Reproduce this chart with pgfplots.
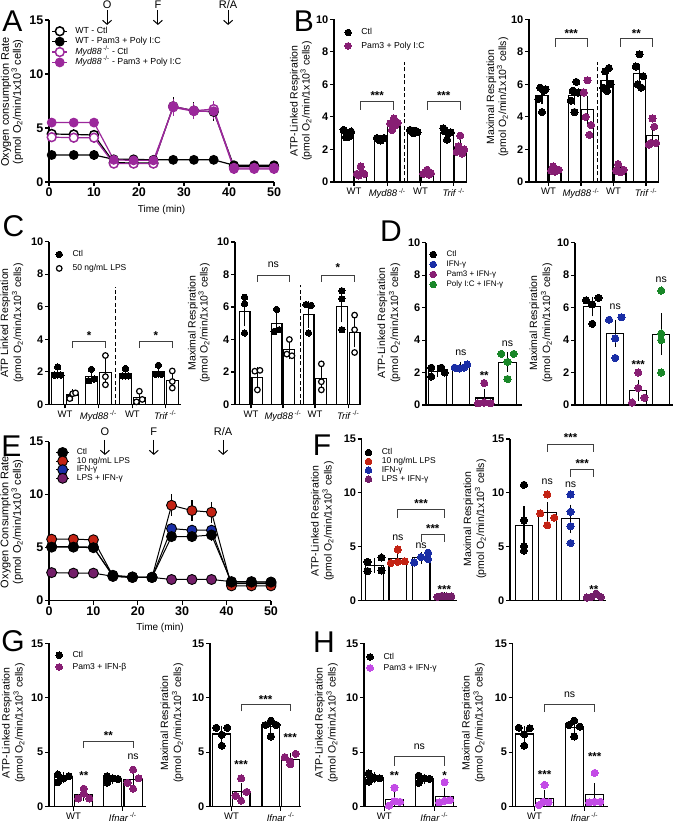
\documentclass[border=0pt]{standalone}
\usepackage{pgfplots}
\pgfplotsset{compat=1.18}
\usepackage{fontspec}
\setmainfont{Liberation Sans}
\usetikzlibrary{arrows.meta}

\definecolor{purA}{RGB}{155,40,155}
\definecolor{purB}{RGB}{135,30,115}
\definecolor{blu}{RGB}{25,45,165}
\definecolor{grn}{RGB}{25,135,40}
\definecolor{redE}{RGB}{195,35,20}
\definecolor{purE}{RGB}{115,30,105}
\definecolor{vio}{RGB}{195,75,230}

\newcommand\stx[3]{\node[font=\bfseries\fontsize{11.5}{11.5}\selectfont, yshift=-2.5pt] at (axis cs:#1,#2) {#3};}
\newcommand\nsx[2]{\node[font=\fontsize{10.5}{11}\selectfont] at (axis cs:#1,#2) {ns};}
\newcommand\arr[4]{\draw[-{Straight Barb[length=4pt,width=9pt]}, line width=1pt] (axis cs:#1,#2) -- (axis cs:#1,#3);
  \node[font=\fontsize{11}{12}\selectfont] at (axis cs:#1,#4)}
\newcommand\units{(pmol O\textsubscript{2}/min/1x10\textsuperscript{3} cells)}
\newcommand\KO[1]{\textit{#1}\,\textsuperscript{-/-}}

\pgfplotsset{
 ax/.style={scale only axis, clip=false, anchor=north west, axis x line=bottom, axis y line=left,
   axis line style={-, line width=1.1pt, black}, every tick/.style={line width=1.1pt, black},
   major tick length=4pt, tick align=outside, ymin=0,
   /pgf/number format/assume math mode=true,
   yticklabel style={font=\bfseries\fontsize{11}{12}\selectfont, inner sep=1.5pt},
   xticklabel style={font=\fontsize{9.5}{10}\selectfont, inner sep=2pt}},
 bars/.style={ybar, bar shift=0pt, bar width=#1, fill=white, draw=black, line width=1.1pt, forget plot,
   error bars/y dir=both, error bars/y explicit,
   error bars/error bar style={line width=1.1pt, black},
   error bars/error mark options={mark size=4pt, line width=1.1pt, black}},
 dots/.style={only marks, mark=*, mark size=3.6pt, color=#1, mark options={fill=#1, draw=#1, line width=0pt},
   legend image code/.code={\draw[##1, mark size=3.3pt] plot coordinates {(0pt,0pt)};}},
 odots/.style={only marks, mark=*, mark size=2.8pt, color=black, mark options={fill=white, draw=black, line width=1.2pt},
   legend image code/.code={\draw[##1] plot coordinates {(0pt,0pt)};}},
 brk/.style={black!75, line width=0.9pt, forget plot},
 dsh/.style={black, line width=1pt, dash pattern=on 4pt off 2.5pt, forget plot},
 leg/.style n args={3}{legend style={draw=none, fill=none, inner sep=0pt, anchor=north west, at={#1},
   font=\fontsize{#2}{10}\selectfont, row sep=#3, column sep=9pt,
   nodes={inner sep=1pt, text height=6.3pt, text depth=1.8pt}}, legend cell align=left},
 lineA/.style={line width=1.2pt, color=#1, mark size=4.4pt,
   error bars/y dir=both, error bars/y explicit,
   error bars/error bar style={line width=1.1pt, #1},
   error bars/error mark options={mark size=3.5pt, line width=1.1pt, #1},
   legend image code/.code={\draw[##1, mark repeat=2, mark phase=2] plot coordinates {(-7.5pt,0pt) (0pt,0pt) (7.5pt,0pt)};}},
 lineE/.style={line width=1pt, color=black, mark=*, mark size=5pt, mark options={fill=#1, draw=black, line width=0.9pt},
   error bars/y dir=both, error bars/y explicit,
   error bars/error bar style={line width=1.1pt, black},
   error bars/error mark options={mark size=3.5pt, line width=1.1pt, black},
   legend image code/.code={\draw[##1, mark repeat=2, mark phase=2] plot coordinates {(-6.5pt,0pt) (0pt,0pt) (6.5pt,0pt)};}},
}

\begin{document}
\begin{tikzpicture}[x=1pt,y=1pt]
\path[use as bounding box] (0,0) rectangle (676,824);

%================ A =================
\begin{axis}[ax, at={(49pt,804pt)}, width=225pt, height=162pt, xmin=0, xmax=50, ymax=15,
  xtick={0,10,...,50}, ytick={0,5,10,15},
  yticklabel style={font=\bfseries\fontsize{12.5}{13}\selectfont},
  xticklabel style={font=\bfseries\fontsize{12.5}{13}\selectfont},
  leg={(0.011,0.963)}{8.8}{0.3pt}, legend style={column sep=6.5pt}]
\addplot[lineA=black, mark=*, mark options={fill=white, line width=1.5pt}] coordinates {
(0.6,4.45) +- (0,0.15) (5.5,4.4) +- (0,0.15) (10,4.35) +- (0,0.15) (14.4,1.8) +- (0,0.1) (18.8,1.75) +- (0,0.1) (23.2,1.75) +- (0,0.1)
(27.6,7.0) +- (0,0.5) (32.2,6.6) +- (0,0.45) (36.6,6.5) +- (0,0.5) (41.1,1.45) +- (0,0.1) (45.6,1.45) +- (0,0.1) (50,1.45) +- (0,0.1)};
\addlegendentry{WT - Ctl}
\addplot[lineA=black, mark=*, mark options={fill=black, line width=1pt}] coordinates {
(0.6,2.5) +- (0,0.1) (5.5,2.5) +- (0,0.1) (10,2.5) +- (0,0.1) (14.4,2.1) +- (0,0.1) (18.8,2.1) +- (0,0.1) (23.2,2.05) +- (0,0.1)
(27.6,2.05) +- (0,0.1) (32.2,2.05) +- (0,0.1) (36.6,2.05) +- (0,0.1) (41.1,1.55) +- (0,0.1) (45.6,1.55) +- (0,0.1) (50,1.55) +- (0,0.1)};
\addlegendentry{WT - Pam3 + Poly I:C}
\addplot[lineA=purA, mark=*, mark options={fill=white, line width=1.5pt}] coordinates {
(0.6,4.15) +- (0,0.15) (5.5,4.1) +- (0,0.15) (10,4.1) +- (0,0.15) (14.4,1.7) +- (0,0.1) (18.8,1.7) +- (0,0.1) (23.2,1.7) +- (0,0.1)
(27.6,7.0) +- (0,0.4) (32.2,6.6) +- (0,0.35) (36.6,6.75) +- (0,0.4) (41.1,1.3) +- (0,0.1) (45.6,1.3) +- (0,0.1) (50,1.3) +- (0,0.1)};
\addlegendentry{\KO{Myd88} - Ctl}
\addplot[lineA=purA, mark=*, mark options={fill=purA, line width=1pt}] coordinates {
(0.6,5.5) +- (0,0.1) (5.5,5.5) +- (0,0.1) (10,5.5) +- (0,0.1) (14.4,2.05) +- (0,0.1) (18.8,2.0) +- (0,0.1) (23.2,2.0) +- (0,0.1)
(27.6,6.9) +- (0,0.45) (32.2,6.55) +- (0,0.35) (36.6,6.55) +- (0,0.35) (41.1,1.2) +- (0,0.1) (45.6,1.2) +- (0,0.1) (50,1.2) +- (0,0.1)};
\addlegendentry{\KO{Myd88} - Pam3 + Poly I:C}
\arr{12.9}{15.93}{14.54}{16.4} {O};
\arr{24.2}{15.93}{14.54}{16.4} {F};
\arr{39.8}{15.93}{14.54}{16.4} {R/A};
\end{axis}
\node[font=\fontsize{10}{11}\selectfont] at (161.5pt,614pt) {Time (min)};
\node[rotate=90, align=center, font=\fontsize{11}{12}\selectfont] at (12pt,722pt) {Oxygen consumption Rate\\\units};

%================ B left =================
\begin{axis}[ax, at={(334pt,804.7pt)}, width=133pt, height=162.7pt, xmin=-1, xmax=9, ymax=10,
  ytick={0,2,...,10}, xtick={0.5,3,5.5,8}, xticklabels={WT, \KO{Myd88}, WT, \KO{Trif}},
  leg={(0.080,0.951)}{8.7}{3.3pt}]
\addplot[bars=0.92] coordinates {(0,2.96) +- (0,0.08) (1,0.58) +- (0,0.1) (2.5,2.64) +- (0,0.03) (3.5,3.57) +- (0,0.11)
 (5,3.1) +- (0,0.04) (6,0.57) +- (0,0.05) (7.5,3.01) +- (0,0.12) (8.5,2.13) +- (0,0.2)};
\addplot[dots=black] coordinates {(-0.28,3.2)(-0.1,2.75)(0.1,2.95)(0.28,3.1)(0.15,2.8)
 (2.22,2.7)(2.38,2.6)(2.5,2.55)(2.62,2.65)(2.78,2.7)
 (4.72,3.2)(4.86,3.1)(5.0,3.0)(5.14,3.15)(5.28,3.05)
 (7.22,3.3)(7.38,3.1)(7.5,2.6)(7.62,3.0)(7.78,3.05)};
\addlegendentry{Ctl}
\addplot[dots=purB] coordinates {(0.72,0.5)(0.86,0.4)(1.0,0.95)(1.14,0.55)(1.28,0.5)
 (3.22,3.6)(3.36,3.2)(3.5,3.9)(3.64,3.5)(3.78,3.65)
 (5.72,0.5)(5.86,0.6)(6.0,0.75)(6.14,0.45)(6.28,0.55)
 (8.22,1.85)(8.36,2.2)(8.5,2.85)(8.64,1.75)(8.78,2.0)};
\addlegendentry{Pam3 + Poly I:C}
\addplot[dsh] coordinates {(4.27,0) (4.27,7.4)};
\addplot[brk] coordinates {(1,4.43) (1,4.94) (3.5,4.94) (3.5,4.43)};
\addplot[brk] coordinates {(6,4.43) (6,4.94) (8.5,4.94) (8.5,4.43)};
\stx{2.25}{5.45}{***}
\stx{7.25}{5.45}{***}
\end{axis}
\node[rotate=90, align=center, font=\fontsize{10.5}{12}\selectfont] at (301pt,723pt) {ATP-Linked Respiration\\\units};

%================ B right =================
\begin{axis}[ax, at={(529pt,804.7pt)}, width=130pt, height=162.7pt, xmin=-1, xmax=9, ymax=10,
  ytick={0,2,...,10}, xtick={0.5,3,5.5,8}, xticklabels={WT, \KO{Myd88}, WT, \KO{Trif}}]
\addplot[bars=0.92] coordinates {(0,5.3) +- (0,0.27) (1,0.75) +- (0,0.05) (2.5,5.31) +- (0,0.31) (3.5,4.43) +- (0,0.62)
 (5,6.24) +- (0,0.28) (6,0.76) +- (0,0.09) (7.5,6.65) +- (0,0.38) (8.5,2.88) +- (0,0.33)};
\addplot[dots=black, forget plot] coordinates {(-0.28,5.1)(-0.14,5.8)(0,4.3)(0.14,5.6)(0.28,5.7)
 (2.22,5.0)(2.36,5.6)(2.5,4.3)(2.64,6.15)(2.78,5.5)
 (4.72,5.8)(4.86,6.8)(5.0,5.6)(5.14,7.0)(5.28,6.0)
 (7.22,7.1)(7.36,6.0)(7.5,7.85)(7.64,5.8)(7.78,6.5)};
\addplot[dots=purB, forget plot] coordinates {(0.72,0.7)(0.86,0.95)(1.0,0.65)(1.14,0.7)(1.28,0.75)
 (3.22,5.5)(3.36,4.0)(3.5,6.25)(3.64,2.9)(3.78,3.5)
 (5.72,0.7)(5.86,1.1)(6.0,0.6)(6.14,0.65)(6.28,0.75)
 (8.22,2.3)(8.36,2.4)(8.5,3.9)(8.64,3.4)(8.78,2.4)};
\addplot[dsh] coordinates {(4.28,0) (4.28,7.4)};
\addplot[brk] coordinates {(1,8.3) (1,8.8) (3.5,8.8) (3.5,8.3)};
\addplot[brk] coordinates {(6,8.3) (6,8.8) (8.5,8.8) (8.5,8.3)};
\stx{2.25}{9.25}{***}
\stx{7.25}{9.25}{**}
\end{axis}
\node[rotate=90, align=center, font=\fontsize{10.5}{12}\selectfont] at (497.5pt,727pt) {Maximal Respiration\\\units};

%================ C left =================
\begin{axis}[ax, at={(49pt,582.3pt)}, width=132pt, height=162.6pt, xmin=-0.6, xmax=8.5, ymax=10,
  ytick={0,2,...,10}, xtick={0.5,2.8,5.15,7.42}, xticklabels={WT, \KO{Myd88}, WT, \KO{Trif}},
  leg={(0.051,0.954)}{8.5}{3.9pt}]
\addplot[bars=0.8] coordinates {(0,1.97) +- (0,0.17) (1.03,0.57) +- (0,0.11) (2.32,1.72) +- (0,0.22) (3.29,1.97) +- (0,0.54)
 (4.67,1.9) +- (0,0.15) (5.63,0.42) +- (0,0.2) (6.94,2.03) +- (0,0.19) (7.9,1.48) +- (0,0.31)};
\addplot[dots=black, mark size=3.2pt] coordinates {(0,2.3)(-0.22,1.8)(0.22,1.8)
 (2.32,2.15)(2.12,1.45)(2.52,1.55) (4.67,2.2)(4.47,1.75)(4.87,1.75) (6.94,2.4)(6.74,1.85)(7.14,1.85)};
\addlegendentry{Ctl}
\addplot[odots] coordinates {(0.83,0.35)(1.03,0.65)(1.23,0.7) (3.29,3.0)(3.29,1.7)(3.29,1.2)
 (5.63,0.8)(5.43,0.15)(5.83,0.3) (7.9,2.05)(7.9,1.4)(7.9,1.0)};
\addlegendentry{50 ng/mL LPS}
\addplot[dsh] coordinates {(3.98,0) (3.98,7.2)};
\addplot[brk] coordinates {(1.03,3.45) (1.03,3.85) (3.29,3.85) (3.29,3.45)};
\addplot[brk] coordinates {(5.63,3.45) (5.63,3.85) (7.9,3.85) (7.9,3.45)};
\stx{2.16}{4.4}{*}
\stx{6.77}{4.4}{*}
\end{axis}
\node[rotate=90, align=center, font=\fontsize{10.5}{13}\selectfont] at (12pt,501pt) {ATP Linked Respiration\\\units};

%================ C right =================
\begin{axis}[ax, at={(235pt,582pt)}, width=126pt, height=162.5pt, xmin=-0.75, xmax=9.1, ymax=10,
  ytick={0,2,...,10}, xtick={0.5,3,5.5,8.1}, xticklabels={WT, \KO{Myd88}, WT, \KO{Trif}}]
\addplot[bars=0.85] coordinates {(0,5.73) +- (0,0.68) (1,1.68) +- (0,0.39) (2.5,4.97) +- (0,0.44) (3.5,3.37) +- (0,0.33)
 (5,5.55) +- (0,0.58) (6,1.6) +- (0,0.47) (7.6,6.03) +- (0,0.73) (8.6,4.43) +- (0,0.67)};
\addplot[dots=black, mark size=3.2pt, forget plot] coordinates {(0,6.6)(0,6.2)(0,4.4) (2.5,5.85)(2.3,4.5)(2.7,4.6)
 (4.8,6.15)(5.2,6.1)(5,4.4) (7.6,7.0)(7.6,6.5)(7.6,4.6)};
\addplot[odots, forget plot] coordinates {(0.8,2.05)(1.2,2.1)(1,0.9) (3.5,4.0)(3.3,3.1)(3.7,3.0)
 (6,2.5)(6,1.4)(6,0.9) (8.6,5.5)(8.6,4.6)(8.6,3.2)};
\addplot[dsh] coordinates {(4.375,0) (4.375,7.35)};
\addplot[brk] coordinates {(1,7.56) (1,7.97) (3.5,7.97) (3.5,7.56)};
\addplot[brk] coordinates {(6,7.56) (6,7.97) (8.6,7.97) (8.6,7.56)};
\nsx{2.25}{8.6}
\stx{7.3}{8.6}{*}
\end{axis}
\node[rotate=90, align=center, font=\fontsize{10.5}{12}\selectfont] at (199pt,501pt) {Maximal Respiration\\\units};

%================ D left =================
\begin{axis}[ax, at={(426pt,581.3pt)}, width=95.5pt, height=162.3pt, xmin=-0.5, xmax=3.6, ymax=10,
  ytick={0,2,...,10}, xtick=\empty, leg={(0.039,0.96)}{8}{-0.1pt}]
\addplot[bars=0.75] coordinates {(0,2.09) +- (0,0.12) (1,2.34) +- (0,0.08) (2,0.43) +- (0,0.31) (3,2.64) +- (0,0.36)};
\addplot[dots=black] coordinates {(-0.27,2.3)(0.16,2.3)(-0.27,1.75)(0.3,2.0)};
\addlegendentry{Ctl}
\addplot[dots=blu] coordinates {(0.73,2.3)(0.93,2.25)(1.27,2.5)(1.13,2.3)};
\addlegendentry{IFN-γ}
\addplot[dots=purB] coordinates {(2,1.35)(1.73,0.1)(2,0.15)(2.27,0.1)};
\addlegendentry{Pam3 + IFN-γ}
\addplot[dots=grn] coordinates {(2.73,3.15)(3.27,3.15)(3.0,2.65)(3.0,1.6)};
\addlegendentry{Poly I:C + IFN-γ}
\nsx{1}{3.2}
\stx{2}{1.95}{**}
\nsx{3}{3.8}
\end{axis}
\node[rotate=90, align=center, font=\fontsize{10.5}{13}\selectfont] at (389pt,501pt) {ATP-Linked Respiration\\\units};

%================ D right =================
\begin{axis}[ax, at={(575pt,581.3pt)}, width=97.75pt, height=162.3pt, xmin=-0.75, xmax=3.5, ymax=10,
  ytick={0,2,...,10}, xtick=\empty]
\addplot[bars=0.75] coordinates {(0,6.06) +- (0,0.36) (1,4.41) +- (0,0.58) (2,0.9) +- (0,0.42) (3,4.36) +- (0,1.04)};
\addplot[dots=black, forget plot] coordinates {(-0.27,6.45)(0.27,6.6)(0,6.2)(0,5.0)};
\addplot[dots=blu, forget plot] coordinates {(0.73,5.25)(1.27,5.4)(1.0,4.1)(1.0,2.9)};
\addplot[dots=purB, forget plot] coordinates {(2.0,2.0)(2.0,1.05)(1.73,0.15)(2.27,0.45)};
\addplot[dots=grn, forget plot] coordinates {(3,7.05)(3,4.4)(3,4.0)(3,2.0)};
\nsx{1}{6.05}
\stx{2}{2.67}{***}
\nsx{3}{7.7}
\end{axis}
\node[rotate=90, align=center, font=\fontsize{10.5}{13}\selectfont] at (541pt,501pt) {Maximal Respiration\\\units};

%================ E =================
\begin{axis}[ax, at={(49pt,382.3pt)}, width=222pt, height=159pt, xmin=0, xmax=50, ymax=15,
  xtick={0,10,...,50}, ytick={0,5,10,15},
  yticklabel style={font=\bfseries\fontsize{12.5}{13}\selectfont},
  xticklabel style={font=\bfseries\fontsize{12.5}{13}\selectfont},
  leg={(0.029,0.965)}{8.4}{-1.5pt}, legend style={column sep=6.2pt}]
\addlegendimage{lineE=black}\addlegendentry{Ctl}
\addlegendimage{lineE=redE}\addlegendentry{10 ng/mL LPS}
\addlegendimage{lineE=blu}\addlegendentry{IFN-γ}
\addlegendimage{lineE=purE}\addlegendentry{LPS + IFN-γ}
\addplot[lineE=blu, forget plot] coordinates {
(0.6,5.1) +- (0,0.1) (5.5,5.1) +- (0,0.1) (10,5.05) +- (0,0.1) (14.4,2.3) +- (0,0.1) (18.8,2.2) +- (0,0.1) (23.2,2.2) +- (0,0.1)
(27.6,6.8) +- (0,0.2) (32.2,6.65) +- (0,0.2) (36.6,6.65) +- (0,0.2) (41.1,1.6) +- (0,0.1) (45.6,1.6) +- (0,0.1) (50,1.6) +- (0,0.1)};
\addplot[lineE=purE, forget plot] coordinates {
(0.6,2.65) +- (0,0.1) (5.5,2.6) +- (0,0.1) (10,2.6) +- (0,0.1) (14.4,2.3) +- (0,0.1) (18.8,2.2) +- (0,0.1) (23.2,2.2) +- (0,0.1)
(27.6,2.0) +- (0,0.1) (32.2,2.0) +- (0,0.1) (36.6,2.0) +- (0,0.1) (41.1,1.8) +- (0,0.1) (45.6,1.8) +- (0,0.1) (50,1.75) +- (0,0.1)};
\addplot[lineE=redE, forget plot] coordinates {
(0.6,5.8) +- (0,0.2) (5.5,5.8) +- (0,0.15) (10,5.75) +- (0,0.15) (14.4,2.35) +- (0,0.1) (18.8,2.2) +- (0,0.1) (23.2,2.2) +- (0,0.1)
(27.6,9.0) +- (0,0.7) (32.2,8.5) +- (0,0.65) (36.6,8.35) +- (0,0.65) (41.1,1.4) +- (0,0.1) (45.6,1.4) +- (0,0.1) (50,1.4) +- (0,0.1)};
\addplot[lineE=black, forget plot] coordinates {
(0.6,5.05) +- (0,0.1) (5.5,5.05) +- (0,0.1) (10,5.0) +- (0,0.1) (14.4,2.4) +- (0,0.1) (18.8,2.25) +- (0,0.1) (23.2,2.2) +- (0,0.1)
(27.6,6.05) +- (0,0.2) (32.2,6.05) +- (0,0.2) (36.6,6.2) +- (0,0.2) (41.1,1.75) +- (0,0.1) (45.6,1.75) +- (0,0.1) (50,1.75) +- (0,0.1)};
\arr{12.6}{15.16}{13.75}{15.94} {O};
\arr{23.6}{15.16}{13.75}{15.94} {F};
\arr{39.2}{15.16}{13.75}{15.94} {R/A};
\end{axis}
\node[font=\fontsize{10}{11}\selectfont] at (160pt,196pt) {Time (min)};
\node[rotate=90, align=center, font=\fontsize{11}{11.5}\selectfont] at (11.75pt,302pt) {Oxygen Consumption Rate\\\units};

%================ F left =================
\begin{axis}[ax, at={(361.7pt,385pt)}, width=95.5pt, height=161.7pt, xmin=-0.55, xmax=3.55, ymax=15,
  ytick={0,5,10,15}, xtick=\empty, leg={(0.035,0.949)}{8.5}{-1.2pt}]
\addplot[bars=0.76] coordinates {(0,3.29) +- (0,0.31) (1,3.875) +- (0,0.29) (2,3.975) +- (0,0.19) (3,0.4) +- (0,0.02)};
\addplot[dots=black] coordinates {(-0.3,3.6)(0.3,4.0)(-0.3,2.75)(0.3,2.8)};
\addlegendentry{Ctl}
\addplot[dots=redE] coordinates {(1.0,4.75)(0.7,3.5)(1.3,3.65)(1.0,3.6)};
\addlegendentry{10 ng/mL LPS}
\addplot[dots=blu] coordinates {(1.7,3.55)(2.0,4.05)(2.3,4.45)(2.3,3.85)};
\addlegendentry{IFN-γ}
\addplot[dots=purE] coordinates {(2.7,0.35)(2.9,0.45)(3.1,0.4)(3.3,0.4)};
\addlegendentry{LPS + IFN-γ}
\addplot[brk] coordinates {(1,7.7) (1,8.49) (3,8.49) (3,7.7)};
\addplot[brk] coordinates {(2,5.46) (2,6.17) (3,6.17) (3,5.46)};
\stx{2}{9.26}{***}
\stx{2.5}{6.94}{***}
\nsx{1}{5.83}
\nsx{2}{5.06}
\stx{3}{1.3}{***}
\end{axis}
\node[rotate=90, align=center, font=\fontsize{10.5}{13}\selectfont] at (322.5pt,303pt) {ATP-Linked Respiration\\\units};

%================ F right =================
\begin{axis}[ax, at={(510pt,385pt)}, width=95.5pt, height=161.7pt, xmin=-0.6, xmax=3.5, ymax=15,
  ytick={0,5,10,15}, xtick=\empty]
\addplot[bars=0.76] coordinates {(0,6.975) +- (0,1.4) (1,8.16) +- (0,0.61) (2,7.59) +- (0,0.96) (3,0.41) +- (0,0.08)};
\addplot[dots=black, forget plot] coordinates {(0,10.75)(0,7.45)(0,5.05)(0,4.65)};
\addplot[dots=redE, forget plot] coordinates {(1,9.85)(0.7,8.1)(1.3,7.7)(1,7.0)};
\addplot[dots=blu, forget plot] coordinates {(2,9.85)(2,8.25)(2,6.9)(2,5.35)};
\addplot[dots=purE, forget plot] coordinates {(2.7,0.3)(2.9,0.35)(3.1,0.65)(3.3,0.35)};
\addplot[brk] coordinates {(1,13.8) (1,14.5) (3,14.5) (3,13.8)};
\addplot[brk] coordinates {(2,11.5) (2,12.2) (3,12.2) (3,11.5)};
\stx{2}{15.37}{***}
\stx{2.5}{12.96}{***}
\nsx{1}{11.0}
\nsx{2}{10.77}
\stx{3}{1.3}{**}
\end{axis}
\node[rotate=90, align=center, font=\fontsize{10.5}{13}\selectfont] at (475pt,305pt) {Maximal Respiration\\\units};

%================ G left =================
\begin{axis}[ax, at={(49pt,180.7pt)}, width=97.4pt, height=163.4pt, xmin=-0.7, xmax=4.05, ymax=15,
  ytick={0,5,10,15}, xtick={0.5,2.9}, xticklabels={WT, \KO{Ifnar}},
  leg={(0.069,0.959)}{8.6}{1.6pt}]
\addplot[bars=0.88] coordinates {(0,2.65) +- (0,0.15) (1,1.09) +- (0,0.21) (2.4,2.54) +- (0,0.13) (3.4,2.46) +- (0,0.37)};
\addplot[dots=black] coordinates {(-0.27,2.95)(0.27,2.8)(0,2.6)(-0.27,2.25) (2.13,2.8)(2.4,2.6)(2.67,2.55)(2.13,2.2)};
\addlegendentry{Ctl}
\addplot[dots=purB] coordinates {(1,1.65)(0.73,0.75)(1.27,0.75)(1,1.2) (3.4,3.4)(3.13,2.2)(3.67,2.6)(3.4,1.65)};
\addlegendentry{Pam3 + IFN-β}
\addplot[brk] coordinates {(1,5.37) (1,5.98) (3.4,5.98) (3.4,5.37)};
\stx{2.2}{6.75}{**}
\stx{1}{3.07}{**}
\nsx{3.4}{4.6}
\end{axis}
\node[rotate=90, align=center, font=\fontsize{10.5}{13}\selectfont] at (13.5pt,101pt) {ATP-Linked Respiration\\\units};

%================ G right =================
\begin{axis}[ax, at={(210pt,180.7pt)}, width=91pt, height=163.4pt, xmin=-0.58, xmax=3.9, ymax=15,
  ytick={0,5,10,15}, xtick={0.48,2.9}, xticklabels={WT, \KO{Ifnar}}]
\addplot[bars=0.88] coordinates {(0,6.675) +- (0,0.39) (0.95,1.375) +- (0,0.44) (2.42,7.34) +- (0,0.31) (3.37,4.36) +- (0,0.21)};
\addplot[dots=black, forget plot] coordinates {(-0.27,7.25)(0.27,7.25)(0,6.6)(0,5.6) (2.42,7.9)(2.15,7.5)(2.69,7.5)(2.42,6.45)};
\addplot[dots=purB, forget plot] coordinates {(0.95,2.6)(0.68,1.0)(1.22,1.35)(0.95,0.55) (3.1,4.55)(3.37,4.15)(3.64,4.85)(3.37,3.9)};
\addplot[brk] coordinates {(0.95,8.74) (0.95,9.42) (3.37,9.42) (3.37,8.74)};
\stx{2.16}{10.1}{***}
\stx{0.95}{4.14}{***}
\stx{3.37}{6.6}{***}
\end{axis}
\node[rotate=90, align=center, font=\fontsize{10.5}{13}\selectfont] at (172pt,101pt) {Maximal Respiration\\\units};

%================ H left =================
\begin{axis}[ax, at={(364pt,180.7pt)}, width=93.4pt, height=163.4pt, xmin=-0.5, xmax=4.1, ymax=15,
  ytick={0,5,10,15}, xtick={0.5,2.96}, xticklabels={WT, \KO{Ifnar}},
  leg={(0.029,0.949)}{8.6}{0.9pt}]
\addplot[bars=0.88] coordinates {(0,2.65) +- (0,0.15) (1,0.7) +- (0,0.36) (2.46,2.55) +- (0,0.13) (3.47,0.95) +- (0,0.43)};
\addplot[dots=black] coordinates {(-0.27,3.05)(0,2.65)(0.27,2.6)(-0.27,2.3) (2.19,2.85)(2.46,2.6)(2.73,2.55)(2.19,2.2)};
\addlegendentry{Ctl}
\addplot[dots=vio] coordinates {(1,1.75)(0.73,0.1)(1,0.5)(1.27,0.45) (3.47,2.25)(3.2,0.4)(3.47,0.55)(3.74,0.6)};
\addlegendentry{Pam3 + IFN-γ}
\addplot[brk] coordinates {(1,3.77) (1,4.6) (3.47,4.6) (3.47,3.77)};
\nsx{2.23}{5.5}
\stx{1}{3.07}{**}
\stx{3.47}{3.07}{*}
\end{axis}
\node[rotate=90, align=center, font=\fontsize{10.5}{13}\selectfont] at (326.5pt,101pt) {ATP-Linked Respiration\\\units};

%================ H right =================
\begin{axis}[ax, at={(512.7pt,180.7pt)}, width=94.8pt, height=163.4pt, xmin=-0.57, xmax=4.1, ymax=15,
  ytick={0,5,10,15}, xtick={0.5,2.96}, xticklabels={WT, \KO{Ifnar}}]
\addplot[bars=0.88] coordinates {(0,6.675) +- (0,0.38) (1,0.75) +- (0,0.42) (2.46,7.3) +- (0,0.3) (3.47,1.1) +- (0,0.67)};
\addplot[dots=black, forget plot] coordinates {(-0.27,7.25)(0.27,7.2)(0,6.65)(0,5.6) (2.46,7.9)(2.19,7.5)(2.73,7.35)(2.46,6.45)};
\addplot[dots=vio, forget plot] coordinates {(0.73,0.15)(0.93,0.45)(1.2,0.4)(1.0,2.0) (3.47,3.1)(3.2,0.4)(3.47,0.45)(3.74,0.45)};
\addplot[brk] coordinates {(1,8.68) (1,9.36) (3.47,9.36) (3.47,8.68)};
\nsx{2.23}{10.3}
\stx{1}{3.22}{***}
\stx{3.47}{4.85}{***}
\end{axis}
\node[rotate=90, align=center, font=\fontsize{10.5}{13}\selectfont] at (473.5pt,101pt) {Maximal Respiration\\\units};

%================ panel letters =================
\node[font=\fontsize{30}{30}\selectfont, inner sep=0pt] at (12.5pt,803pt) {A};
\node[font=\fontsize{30}{30}\selectfont, inner sep=0pt] at (304pt,803pt) {B};
\node[font=\fontsize{30}{30}\selectfont, inner sep=0pt] at (13.5pt,598pt) {C};
\node[font=\fontsize{30}{30}\selectfont, inner sep=0pt] at (391pt,593pt) {D};
\node[font=\fontsize{30}{30}\selectfont, inner sep=0pt] at (11.5pt,377.5pt) {E};
\node[font=\fontsize{30}{30}\selectfont, inner sep=0pt] at (322pt,379pt) {F};
\node[font=\fontsize{30}{30}\selectfont, inner sep=0pt] at (13pt,183pt) {G};
\node[font=\fontsize{30}{30}\selectfont, inner sep=0pt] at (324pt,182pt) {H};
\end{tikzpicture}
\end{document}
